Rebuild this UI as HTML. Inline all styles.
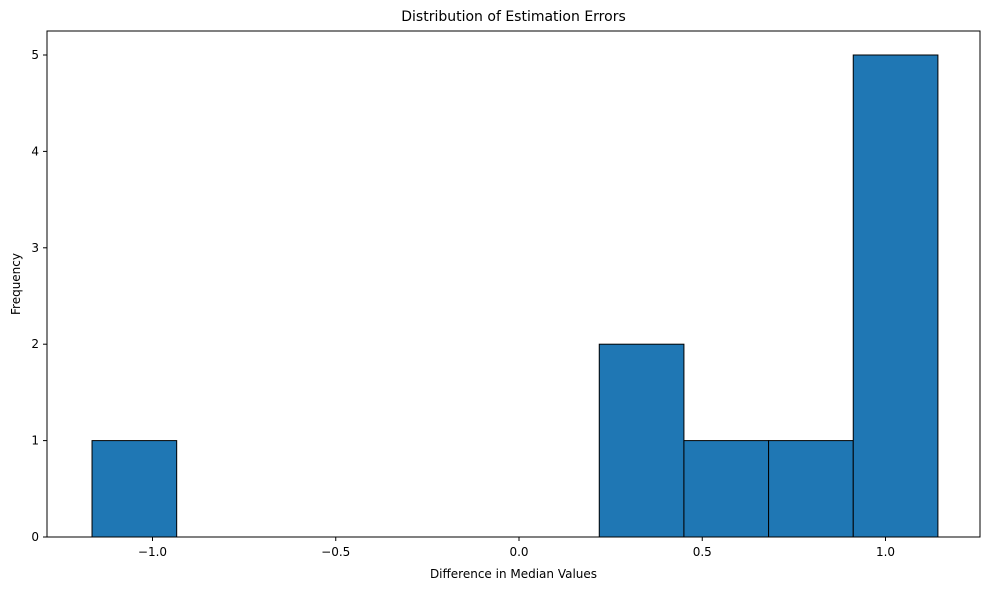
<!DOCTYPE html>
<html><head><meta charset="utf-8">
<style>
body{margin:0;background:#fff;}
svg{display:block;font-family:"DejaVu Sans","Liberation Sans",sans-serif;}
</style></head>
<body>
<svg id="chart" width="989" height="590" viewBox="0 0 989 590" xmlns="http://www.w3.org/2000/svg"></svg>
<script>
const binEdges = [-1.165, -0.934, -0.704, -0.473, -0.242, -0.011, 0.219, 0.450, 0.681, 0.912, 1.143];
const counts = [1, 0, 0, 0, 0, 0, 2, 1, 1, 5];
const xTicks = [-1.0, -0.5, 0.0, 0.5, 1.0];
const xTickLabels = ["\u22121.0", "\u22120.5", "0.0", "0.5", "1.0"];
const yTicks = [0, 1, 2, 3, 4, 5];

const L=47, R=980, T=31, B=537;
const xs = v => 519 + v*366.5;
const ys = v => B - v*96.4;
const svg = document.getElementById('chart');
const NS = 'http://www.w3.org/2000/svg';
function mk(tag, attrs, parent){const e=document.createElementNS(NS,tag);for(const k in attrs)e.setAttribute(k,attrs[k]);(parent||svg).appendChild(e);return e;}

const bars = mk('g',{});


counts.forEach((c,i)=>{
  if(c<=0) return;
  const x0=xs(binEdges[i]), x1=xs(binEdges[i+1]);
  const r=mk('rect',{x:x0,y:ys(c),width:x1-x0,height:ys(0)-ys(c),fill:'#1f77b4',stroke:'#000','stroke-width':1},bars);
  
  
});

const frame=mk('rect',{x:L,y:T,width:R-L,height:B-T,fill:'none',stroke:'#000','stroke-width':1});



const xa=mk('g',{});


xTicks.forEach((v,i)=>{
  const x=xs(v);
  mk('line',{x1:x,x2:x,y1:B,y2:B+4,stroke:'#000'},xa);
  const t=mk('text',{x:x,y:B+19,'text-anchor':'middle','font-size':12,fill:'#000'},xa);
  t.textContent=xTickLabels[i];
  
  
});
const ya=mk('g',{});


yTicks.forEach(v=>{
  const y=ys(v);
  mk('line',{x1:L-4,x2:L,y1:y,y2:y,stroke:'#000'},ya);
  const t=mk('text',{x:L-8,y:y+4,'text-anchor':'end','font-size':12,fill:'#000'},ya);
  t.textContent=String(v);
  
  
});

const title=mk('text',{x:(L+R)/2,y:21,'text-anchor':'middle','font-size':14,fill:'#000'});
title.textContent='Distribution of Estimation Errors';


const xl=mk('text',{x:(L+R)/2,y:578,'text-anchor':'middle','font-size':12,fill:'#000'});
xl.textContent='Difference in Median Values';


const yl=mk('text',{x:20,y:(T+B)/2,'text-anchor':'middle','font-size':12,fill:'#000',transform:'rotate(-90 20 '+((T+B)/2)+')'});
yl.textContent='Frequency';


</script>
</body></html>
